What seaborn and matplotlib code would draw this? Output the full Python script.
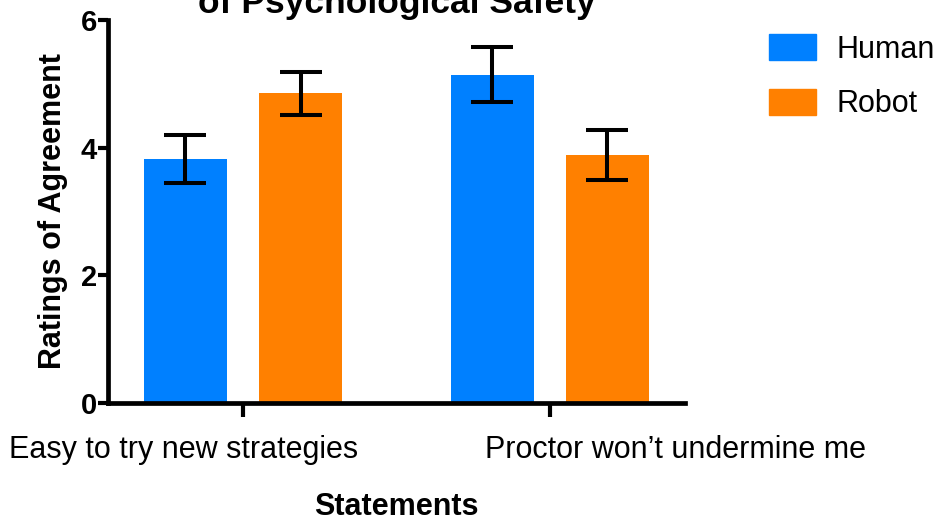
import matplotlib
matplotlib.use("Agg")
import matplotlib.pyplot as plt
import matplotlib.transforms as mtransforms
import numpy as np
import pandas as pd
import seaborn as sns

# Survey data: mean agreement ratings and error (SEM) per statement and proctor type
statements = ["Easy to try new strategies", "Proctor won\u2019t undermine me"]
proctors = ["Human", "Robot"]
human_means = [3.82, 5.14]
robot_means = [4.85, 3.88]
human_err = [0.38, 0.43]
robot_err = [0.34, 0.39]
y_ticks = [0, 2, 4, 6]

colors = {"Human": "#0080FF", "Robot": "#FF8000"}

df = pd.DataFrame({
    "Statement": statements * 2,
    "Proctor": ["Human"] * 2 + ["Robot"] * 2,
    "Rating": human_means + robot_means,
    "Err": human_err + robot_err,
})

sns.set_theme(style="ticks")
plt.rcParams["font.family"] = ["Liberation Sans", "DejaVu Sans"]
for key in ["text.color", "axes.labelcolor", "xtick.color", "ytick.color"]:
    plt.rcParams[key] = "black"

fig = plt.figure(figsize=(9.4, 5.23), dpi=100)
ax = fig.add_axes([0.1149, 0.2294, 0.6138, 0.7324])

sns.barplot(data=df, x="Statement", y="Rating", hue="Proctor",
            order=statements, hue_order=proctors, palette=colors,
            width=0.75, gap=0.28, errorbar=None, saturation=1.0,
            linewidth=0, legend=False, ax=ax)

# Error bars centred on each drawn bar
for container, proctor in zip(ax.containers, proctors):
    sub = df[df["Proctor"] == proctor].set_index("Statement").loc[statements]
    xs = [p.get_x() + p.get_width() / 2 for p in container.patches]
    ax.errorbar(xs, sub["Rating"], yerr=sub["Err"], fmt="none",
                ecolor="black", elinewidth=2.9, capsize=14.8, capthick=2.9,
                zorder=5)

ax.set_ylim(0, 6)
ax.set_xlim(-0.44, 1.44)
ax.set_yticks(y_ticks)
ax.set_yticklabels([str(t) for t in y_ticks], fontsize=21, fontweight="bold")
ax.tick_params(axis="y", length=7, width=3, pad=1)
ax.tick_params(axis="x", length=10, width=3, pad=13, labelsize=22)

# Category labels sit off-centre from their ticks
offsets_px = [-59, 126]
for lab, dx in zip(ax.get_xticklabels(), offsets_px):
    lab.set_transform(lab.get_transform() +
                      mtransforms.ScaledTranslation(dx / 100, 0, fig.dpi_scale_trans))

ax.set_xlabel("Statements", fontsize=22, fontweight="bold", labelpad=19.5)
ax.set_ylabel("Ratings of Agreement", fontsize=22, fontweight="bold", labelpad=9)
ax.set_title("of Psychological Safety", fontsize=25.5, fontweight="bold", pad=1.4)

for side in ["top", "right"]:
    ax.spines[side].set_visible(False)
for side in ["left", "bottom"]:
    ax.spines[side].set_linewidth(3.4)
    ax.spines[side].set_color("black")

handles = [plt.Rectangle((0, 0), 1, 1, color=colors[p]) for p in proctors]
fig.legend(handles, proctors, loc="upper left", bbox_to_anchor=(0.805, 0.958),
           frameon=False, fontsize=22, handlelength=1.53, handleheight=0.92,
           handletextpad=0.68, labelspacing=0.8, borderaxespad=0)

fig.savefig("out.png", dpi=100)
